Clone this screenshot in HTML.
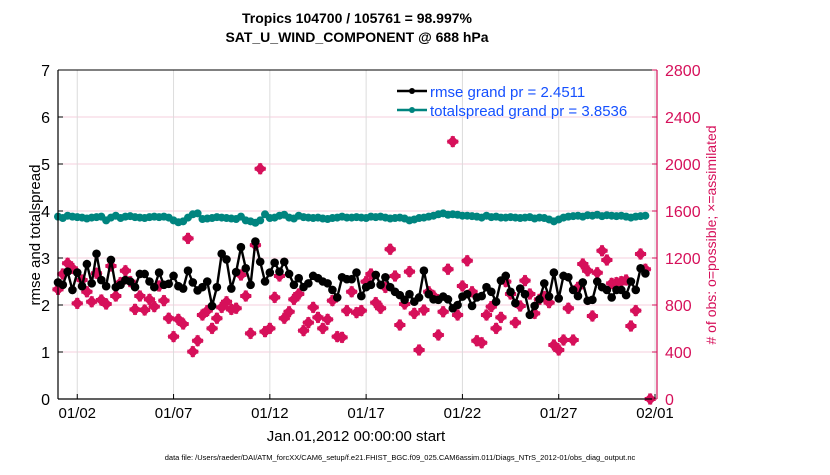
<!DOCTYPE html>
<html><head><meta charset="utf-8"><style>
body{margin:0;background:#fff;width:830px;height:470px;overflow:hidden;font-family:"Liberation Sans",sans-serif}
text{font-family:"Liberation Sans",sans-serif}
</style></head><body>
<svg id="chart" width="830" height="470" xmlns="http://www.w3.org/2000/svg">
<text x="357" y="23" font-size="14" font-weight="bold" text-anchor="middle">Tropics 104700 / 105761 = 98.997%</text>
<text x="357" y="42" font-size="14" font-weight="bold" text-anchor="middle">SAT_U_WIND_COMPONENT @ 688 hPa</text>
<g id="grid"></g>
<g id="marks"></g>
<g id="axes"></g>
<text transform="translate(40,235) rotate(-90)" font-size="15" text-anchor="middle">rmse and totalspread</text>
<text transform="translate(716,235) rotate(-90)" font-size="14" fill="#d6105a" text-anchor="middle"># of obs: o=possible; ×=assimilated</text>
<text x="356" y="441" font-size="15" text-anchor="middle">Jan.01,2012 00:00:00 start</text>
<text x="400" y="460" font-size="7.5" text-anchor="middle">data file: /Users/raeder/DAI/ATM_forcXX/CAM6_setup/f.e21.FHIST_BGC.f09_025.CAM6assim.011/Diags_NTrS_2012-01/obs_diag_output.nc</text>
<g>
<line x1="397" y1="91" x2="427" y2="91" stroke="#000" stroke-width="2.5"/><circle cx="412" cy="91" r="3" fill="#000"/>
<text x="430" y="97" font-size="15" fill="#1550ff">rmse grand pr = 2.4511</text>
<line x1="397" y1="110" x2="427" y2="110" stroke="#00847f" stroke-width="2.5"/><circle cx="412" cy="110" r="3" fill="#00847f"/>
<text x="430" y="116" font-size="15" fill="#1550ff">totalspread grand pr = 3.8536</text>
</g>
</svg>
<script>
const xTickLabels=["01/02","01/07","01/12","01/17","01/22","01/27","02/01"];
const xTickDays=[1,6,11,16,21,26,31];
const yTicks=[0,1,2,3,4,5,6,7];
const y2Ticks=[0,400,800,1200,1600,2000,2400,2800];
const rmse=[2.48,2.43,2.71,2.32,2.69,2.40,2.87,2.46,3.09,2.53,2.40,2.96,2.38,2.43,2.53,2.50,2.38,2.66,2.66,2.50,2.38,2.69,2.43,2.45,2.62,2.40,2.35,2.73,2.48,2.31,2.38,2.50,1.98,2.38,3.09,2.97,2.35,2.70,3.23,2.78,2.43,3.35,
2.92,2.50,2.69,2.90,2.71,2.92,2.66,2.43,2.57,2.38,2.46,2.62,2.57,2.50,2.46,2.32,2.16,2.59,2.55,2.55,2.69,2.19,2.38,2.43,2.64,2.43,2.59,2.38,2.28,2.21,2.11,2.23,2.07,2.16,2.73,2.23,2.12,2.11,2.18,2.12,1.93,
2.00,2.18,2.23,1.98,2.16,2.19,2.38,2.28,2.07,2.52,2.62,2.28,2.04,2.35,2.23,1.79,1.98,2.12,2.46,2.18,2.69,2.14,2.62,2.59,2.32,2.19,2.48,2.09,2.11,2.50,2.38,2.32,2.16,2.32,2.32,2.21,2.50,2.32,2.78,2.67];
const spread=[3.88,3.85,3.90,3.88,3.87,3.86,3.84,3.86,3.87,3.88,3.80,3.86,3.90,3.85,3.88,3.89,3.87,3.86,3.85,3.87,3.88,3.87,3.88,3.86,3.80,3.76,3.78,3.86,3.93,3.95,3.83,3.84,3.85,3.87,3.86,3.85,3.84,3.83,3.88,3.80,3.78,3.75,
3.80,3.93,3.85,3.86,3.90,3.92,3.86,3.84,3.90,3.87,3.86,3.85,3.86,3.84,3.83,3.85,3.86,3.88,3.86,3.86,3.87,3.86,3.85,3.88,3.87,3.88,3.86,3.84,3.85,3.86,3.84,3.80,3.82,3.85,3.86,3.88,3.90,3.93,3.95,3.92,3.93,
3.92,3.90,3.90,3.89,3.88,3.86,3.90,3.87,3.88,3.86,3.86,3.87,3.86,3.85,3.86,3.87,3.84,3.86,3.85,3.82,3.78,3.82,3.86,3.88,3.89,3.90,3.88,3.91,3.90,3.92,3.89,3.91,3.90,3.89,3.90,3.88,3.86,3.88,3.89,3.90];
const obsCount=[933,1064,1155,1112,814,1013,913,828,1070,843,808,1132,877,990,1092,999,763,877,757,848,786,962,837,687,531,678,638,1367,403,496,715,752,601,687,780,828,763,772,1055,877,559,1310,
1960,573,601,865,1047,687,743,848,894,582,650,780,695,601,678,837,531,525,752,913,735,752,999,1064,820,772,950,1274,1047,630,808,1084,729,417,757,913,877,545,743,1104,2190,
715,962,1177,913,496,479,715,786,601,695,999,894,650,791,1007,894,729,848,871,820,460,417,502,772,502,950,1149,1092,706,1075,1262,1183,984,990,999,1013,621,752,1234,1104,0];

const NS="http://www.w3.org/2000/svg";
const L=58,R=655,T=70,B=399;
const xs=d=>L+(d/31)*(R-L);
const ys=v=>B-(v/7)*(B-T);
const ys2=v=>B-(v/2800)*(B-T);
const dayOf=i=>i*0.25;
function mk(tag,attrs,parent){const e=document.createElementNS(NS,tag);for(const k in attrs)e.setAttribute(k,attrs[k]);parent.appendChild(e);return e;}
const grid=document.getElementById('grid'),marks=document.getElementById('marks'),axes=document.getElementById('axes');

y2Ticks.forEach(v=>{const g=mk('line',{x1:L,x2:R,y1:ys2(v),y2:ys2(v),stroke:'#f5cfdc','stroke-width':1},grid);

});
xTickDays.forEach(d=>{const g=mk('line',{x1:xs(d),x2:xs(d),y1:T,y2:B,stroke:'#dcdcdc','stroke-width':1},grid);

});

obsCount.forEach((v,i)=>{const x=xs(dayOf(i)),y=ys2(v);
const g=mk('path',{d:`M${x-6},${y}L${x},${y-6}L${x+6},${y}L${x},${y+6}Z`,fill:'#d6105a'},marks);


mk('path',{d:`M${x-5.5},${y}H${x+5.5}M${x},${y-5.5}V${y+5.5}`,stroke:'#d6105a','stroke-width':4},marks);});

function series(arr,color,name,r){
const pts=arr.map((v,i)=>xs(dayOf(i)).toFixed(1)+','+ys(v).toFixed(1)).join(' ');
const pl=mk('polyline',{points:pts,fill:'none',stroke:color,'stroke-width':2.4},marks);


arr.forEach((v,i)=>{const c=mk('circle',{cx:xs(dayOf(i)),cy:ys(v),r:r,fill:color},marks);

});}
series(spread,'#00847f','totalspread',4);
series(rmse,'#000','rmse',4.3);

mk('line',{x1:L,x2:R,y1:T,y2:T,stroke:'#000','stroke-width':1},axes);
mk('line',{x1:L,x2:R,y1:B,y2:B,stroke:'#000','stroke-width':1.2},axes);
mk('line',{x1:L,x2:L,y1:T,y2:B,stroke:'#000','stroke-width':1.2},axes);
mk('line',{x1:R+2,x2:R+2,y1:T,y2:B,stroke:'#d6105a','stroke-width':1.2},axes);
yTicks.forEach(v=>{mk('line',{x1:L,x2:L+5,y1:ys(v),y2:ys(v),stroke:'#000'},axes);
const t=mk('text',{x:L-8,y:ys(v)+6,'font-size':16,'text-anchor':'end'},axes);t.textContent=v;

});
y2Ticks.forEach(v=>{mk('line',{x1:R+2,x2:R-3,y1:ys2(v),y2:ys2(v),stroke:'#d6105a'},axes);
const t=mk('text',{x:R+10,y:ys2(v)+6,'font-size':16,fill:'#d6105a'},axes);t.textContent=v;

});
xTickDays.forEach((d,i)=>{mk('line',{x1:xs(d),x2:xs(d),y1:B,y2:B-5,stroke:'#000'},axes);
const t=mk('text',{x:xs(d),y:B+19,'font-size':15,'text-anchor':'middle'},axes);t.textContent=xTickLabels[i];

});
</script>
</body></html>
